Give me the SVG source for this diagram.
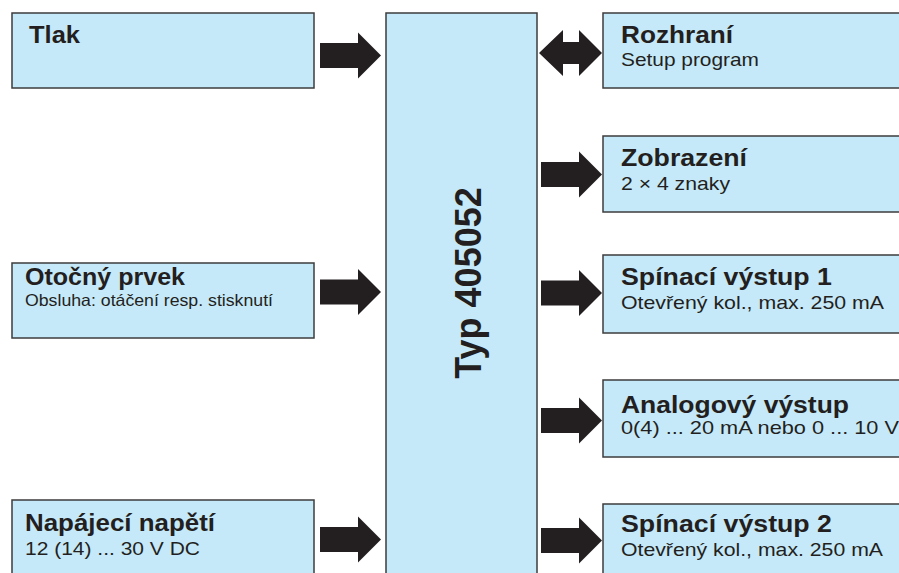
<svg xmlns="http://www.w3.org/2000/svg" width="899" height="573" viewBox="0 0 899 573">
<style>
.box{fill:#c6e9f9;stroke:#3c3c3c;stroke-width:1.5}
.arr{fill:#231f20}
.t{font-family:"Liberation Sans",Arial,sans-serif;font-weight:bold;font-size:23px;fill:#231f20}
.s{font-family:"Liberation Sans",Arial,sans-serif;font-size:18.5px;fill:#231f20}
.s2{font-family:"Liberation Sans",Arial,sans-serif;font-size:16.5px;fill:#231f20}
.big{font-family:"Liberation Sans",Arial,sans-serif;font-weight:bold;font-size:36px;fill:#231f20}
</style>
<defs>
<path id="ra" d="M0,-12.5 H38 V-23 L61,0 L38,23 V12.5 H0 Z"/>
</defs>
<rect width="899" height="573" fill="#ffffff"/>
<g id="tlak"><rect class="box" x="12" y="13" width="302" height="75"/><text class="t" x="29" y="43" textLength="51" lengthAdjust="spacingAndGlyphs">Tlak</text></g>
<g id="otocny"><rect class="box" x="12" y="263" width="302" height="75"/><text class="t" x="25" y="285" textLength="160" lengthAdjust="spacingAndGlyphs">Otočný prvek</text><text class="s2" x="25" y="306" textLength="248" lengthAdjust="spacingAndGlyphs">Obsluha: otáčení resp. stisknutí</text></g>
<g id="napajeci"><rect class="box" x="12" y="500" width="302" height="90"/><text class="t" x="25" y="531" textLength="190" lengthAdjust="spacingAndGlyphs">Napájecí napětí</text><text class="s" x="25" y="555" textLength="175" lengthAdjust="spacingAndGlyphs">12 (14) ... 30 V DC</text></g>
<g id="typ"><rect class="box" x="386" y="13" width="151" height="580"/><text class="big" transform="translate(481,283) rotate(-90)" text-anchor="middle">Typ 405052</text></g>
<g id="rozhrani"><rect class="box" x="603" y="13" width="310" height="75"/><text class="t" x="621" y="43" textLength="112" lengthAdjust="spacingAndGlyphs">Rozhraní</text><text class="s" x="621" y="66" textLength="138" lengthAdjust="spacingAndGlyphs">Setup program</text></g>
<g id="zobrazeni"><rect class="box" x="603" y="136" width="310" height="76"/><text class="t" x="621" y="166" textLength="126" lengthAdjust="spacingAndGlyphs">Zobrazení</text><text class="s" x="621" y="190" textLength="109" lengthAdjust="spacingAndGlyphs">2 × 4 znaky</text></g>
<g id="spinaci1"><rect class="box" x="603" y="255" width="310" height="78"/><text class="t" x="621" y="285" textLength="211" lengthAdjust="spacingAndGlyphs">Spínací výstup 1</text><text class="s" x="621" y="309" textLength="263" lengthAdjust="spacingAndGlyphs">Otevřený kol., max. 250 mA</text></g>
<g id="analogovy"><rect class="box" x="603" y="380" width="310" height="77"/><text class="t" x="621" y="413" textLength="228" lengthAdjust="spacingAndGlyphs">Analogový výstup</text><text class="s" x="621" y="434" textLength="278" lengthAdjust="spacingAndGlyphs">0(4) ... 20 mA nebo 0 ... 10 V</text></g>
<g id="spinaci2"><rect class="box" x="603" y="504" width="310" height="80"/><text class="t" x="621" y="532" textLength="211" lengthAdjust="spacingAndGlyphs">Spínací výstup 2</text><text class="s" x="621" y="556" textLength="262" lengthAdjust="spacingAndGlyphs">Otevřený kol., max. 250 mA</text></g>
<g id="connectors" class="arr">
<use href="#ra" x="320" y="55.5"/>
<use href="#ra" x="320" y="292"/>
<use href="#ra" x="320" y="539.5"/>
<path d="M539,53 L563,30 V42 H579 V30 L602,53 L579,76 V64 H563 V76 Z"/>
<use href="#ra" x="541" y="174.5"/>
<use href="#ra" x="541" y="293"/>
<use href="#ra" x="541" y="420.5"/>
<use href="#ra" x="541" y="540.5"/>
</g>
</svg>
